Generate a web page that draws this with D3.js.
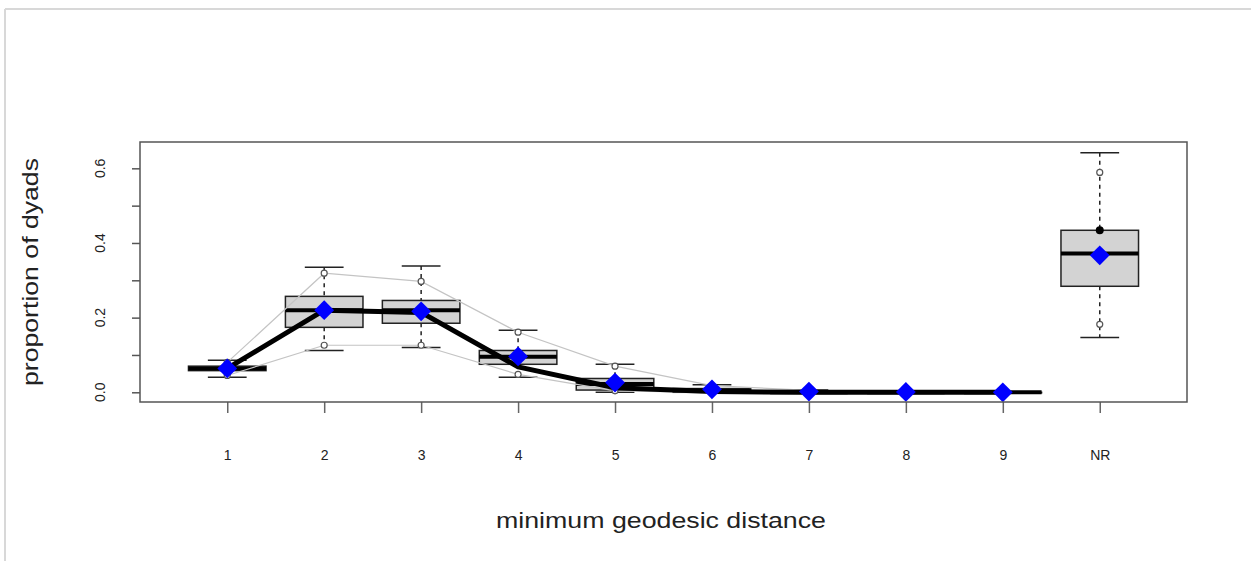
<!DOCTYPE html>
<html>
<head>
<meta charset="utf-8">
<script src="https://cdn.jsdelivr.net/npm/d3@7"></script>
<style>
  body { margin: 0; background: #fff; }
  text { font-family: "Liberation Sans", Arial, sans-serif; fill: #222; }
</style>
</head>
<body>
<div id="graph"></div>
<script>
// categories (minimum geodesic distance)
var categories = ["1", "2", "3", "4", "5", "6", "7", "8", "9", "NR"];
// boxplot of simulated networks
var whiskLo = [0.040, 0.112, 0.120, 0.040, 0.000, 0.000, 0.000, 0.000, 0.000, 0.147];
var q1      = [0.058, 0.174, 0.185, 0.075, 0.006, 0.000, 0.000, 0.000, 0.000, 0.284];
var median  = [0.064, 0.220, 0.220, 0.095, 0.022, 0.004, 0.000, 0.000, 0.000, 0.372];
var q3      = [0.070, 0.257, 0.246, 0.112, 0.037, 0.010, 0.002, 0.000, 0.000, 0.434];
var whiskHi = [0.086, 0.335, 0.338, 0.166, 0.075, 0.020, 0.006, 0.002, 0.000, 0.642];
// quantile lines (grey with open circles)
var upperQ  = [0.080, 0.319, 0.297, 0.161, 0.070, 0.018, 0.005, 0.001, 0.000, 0.589];
var lowerQ  = [0.045, 0.126, 0.126, 0.048, 0.004, 0.000, 0.000, 0.000, 0.000, 0.182];
// observed network (thick black line) and simulated mean (blue diamonds)
var observed = [0.064, 0.220, 0.214, 0.068, 0.012, 0.002, 0.000, 0.000, 0.000, 0.434];
var meanVals = [0.064, 0.220, 0.217, 0.096, 0.026, 0.008, 0.002, 0.001, 0.000, 0.367];
var yTicks = [0, 0.1, 0.2, 0.3, 0.4, 0.5, 0.6];
var yLabels = [0, 0.2, 0.4, 0.6];

var W = 1251, H = 561;
var frame = { left: 140, right: 1187, top: 142, bottom: 402 };

var svg = d3.select("#graph")
    .append("svg")
    .attr("width", W)
    .attr("height", H);

// rand des Screenshots
svg.append("line").attr("x1", 5).attr("x2", W).attr("y1", 9).attr("y2", 9)
    .attr("stroke", "#d8d8d8").attr("stroke-width", 2);
svg.append("line").attr("x1", 5).attr("x2", 5).attr("y1", 9).attr("y2", H)
    .attr("stroke", "#d8d8d8").attr("stroke-width", 2);

var data = categories.map(function(c, i) {
    return { cat: c, i: i + 1, wl: whiskLo[i], q1: q1[i], med: median[i], q3: q3[i], wh: whiskHi[i],
             up: upperQ[i], lo: lowerQ[i], obs: observed[i], mean: meanVals[i] };
});

var x = d3.scaleLinear().domain([0.1, 10.9]).range([frame.left, frame.right]);
var y = d3.scaleLinear().domain([-0.026, 0.6705]).range([frame.bottom, frame.top]);
var unit = x(2) - x(1);
var boxW = unit * 0.8;
var capW = boxW * 0.5;

// achsen
var xAxis = d3.axisBottom(x)
    .tickValues(d3.range(1, 11))
    .tickFormat(function(d) { return categories[d - 1]; })
    .tickSize(11)
    .tickPadding(37);
var gx = svg.append("g").attr("transform", "translate(0," + frame.bottom + ")").call(xAxis);
gx.select(".domain").remove();
gx.selectAll("line").attr("stroke", "#666").attr("stroke-width", 1.5);
gx.selectAll("text").attr("font-size", 14).attr("fill", "#222");

var yAxis = d3.axisLeft(y).tickValues(yTicks).tickSize(8).tickFormat("");
var gy = svg.append("g").attr("transform", "translate(" + frame.left + ",0)").call(yAxis);
gy.select(".domain").remove();
gy.selectAll("line").attr("stroke", "#555").attr("stroke-width", 1.5);

svg.selectAll(".ylab")
    .data(yLabels)
    .enter()
    .append("text")
    .attr("class", "ylab")
    .attr("transform", function(d) { return "translate(105," + y(d) + ") rotate(-90)"; })
    .attr("text-anchor", "middle")
    .attr("font-size", 14)
    .text(function(d) { return d3.format(".1f")(d); });

// boxplots
var boxes = svg.selectAll(".box")
    .data(data)
    .enter()
    .append("g")
    .attr("class", "box");

boxes.append("line")
    .attr("x1", function(d) { return x(d.i); })
    .attr("x2", function(d) { return x(d.i); })
    .attr("y1", function(d) { return y(d.wh); })
    .attr("y2", function(d) { return y(d.q3); })
    .attr("stroke", "#222").attr("stroke-width", 1.5).attr("stroke-dasharray", "4,4");
boxes.append("line")
    .attr("x1", function(d) { return x(d.i); })
    .attr("x2", function(d) { return x(d.i); })
    .attr("y1", function(d) { return y(d.q1); })
    .attr("y2", function(d) { return y(d.wl); })
    .attr("stroke", "#222").attr("stroke-width", 1.5).attr("stroke-dasharray", "4,4");
boxes.append("line")
    .attr("x1", function(d) { return x(d.i) - capW / 2; })
    .attr("x2", function(d) { return x(d.i) + capW / 2; })
    .attr("y1", function(d) { return y(d.wh); })
    .attr("y2", function(d) { return y(d.wh); })
    .attr("stroke", "#222").attr("stroke-width", 1.5);
boxes.append("line")
    .attr("x1", function(d) { return x(d.i) - capW / 2; })
    .attr("x2", function(d) { return x(d.i) + capW / 2; })
    .attr("y1", function(d) { return y(d.wl); })
    .attr("y2", function(d) { return y(d.wl); })
    .attr("stroke", "#222").attr("stroke-width", 1.5);
boxes.append("rect")
    .attr("x", function(d) { return x(d.i) - boxW / 2; })
    .attr("width", boxW)
    .attr("y", function(d) { return y(d.q3); })
    .attr("height", function(d) { return Math.max(0.5, y(d.q1) - y(d.q3)); })
    .attr("fill", "#d3d3d3")
    .attr("stroke", "#222").attr("stroke-width", 1.5);
boxes.append("line")
    .attr("x1", function(d) { return x(d.i) - boxW / 2; })
    .attr("x2", function(d) { return x(d.i) + boxW / 2; })
    .attr("y1", function(d) { return y(d.med); })
    .attr("y2", function(d) { return y(d.med); })
    .attr("stroke", "#000").attr("stroke-width", 4);

// graue quantil-linien mit kreisen
var first9 = data.slice(0, 9);
var line = function(key) {
    return d3.line()
        .x(function(d) { return x(d.i); })
        .y(function(d) { return y(d[key]); });
};
["up", "lo"].forEach(function(key) {
    svg.append("path")
        .datum(first9)
        .attr("d", line(key))
        .attr("fill", "none")
        .attr("stroke", "#c4c4c4")
        .attr("stroke-width", 1.2);
    svg.selectAll(".c" + key)
        .data(data)
        .enter()
        .append("circle")
        .attr("class", "c" + key)
        .attr("cx", function(d) { return x(d.i); })
        .attr("cy", function(d) { return y(d[key]); })
        .attr("r", 3)
        .attr("fill", "#fff")
        .attr("stroke", "#555")
        .attr("stroke-width", 1.2);
});

// beobachtete werte
svg.append("path")
    .datum(first9)
    .attr("d", line("obs"))
    .attr("fill", "none")
    .attr("stroke", "#000")
    .attr("stroke-width", 5)
    .attr("stroke-linejoin", "round");
svg.append("circle")
    .attr("cx", x(10))
    .attr("cy", y(observed[9]))
    .attr("r", 4)
    .attr("fill", "#000");

// mittelwerte als blaue rauten
svg.selectAll(".mean")
    .data(data)
    .enter()
    .append("path")
    .attr("class", "mean")
    .attr("d", d3.symbol().type(d3.symbolDiamond2).size(250))
    .attr("transform", function(d) { return "translate(" + x(d.i) + "," + y(d.mean) + ")"; })
    .attr("fill", "#0000ff");

// rahmen
svg.append("rect")
    .attr("x", frame.left)
    .attr("y", frame.top)
    .attr("width", frame.right - frame.left)
    .attr("height", frame.bottom - frame.top)
    .attr("fill", "none")
    .attr("stroke", "#555")
    .attr("stroke-width", 1.5);

// achsentitel
svg.append("text")
    .attr("x", 661)
    .attr("y", 528)
    .attr("text-anchor", "middle")
    .attr("font-size", 22)
    .attr("textLength", 330)
    .attr("lengthAdjust", "spacingAndGlyphs")
    .text("minimum geodesic distance");
svg.append("text")
    .attr("transform", "translate(38,272) rotate(-90)")
    .attr("text-anchor", "middle")
    .attr("font-size", 22)
    .attr("textLength", 228)
    .attr("lengthAdjust", "spacingAndGlyphs")
    .text("proportion of dyads");
</script>
</body>
</html>
